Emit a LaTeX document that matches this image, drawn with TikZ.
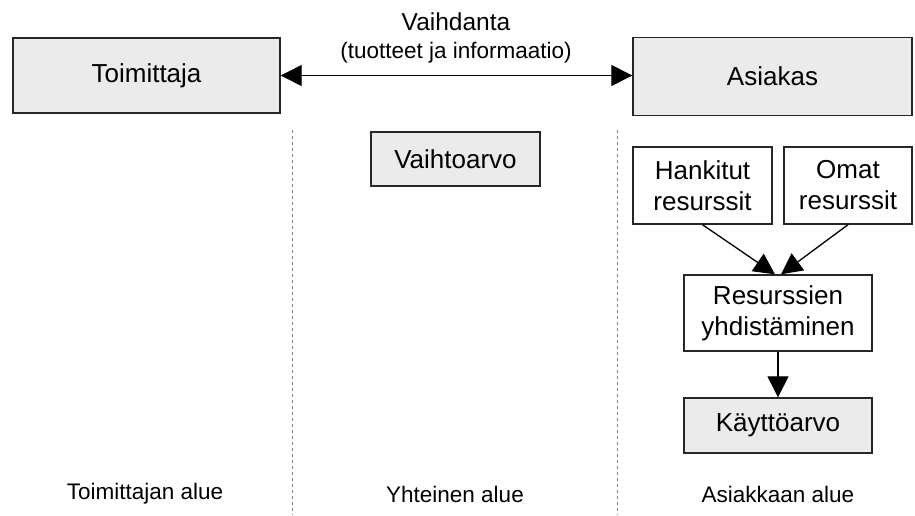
\documentclass[tikz,border=0pt]{standalone}
\usepackage{fontspec}
\setmainfont{Liberation Sans}
\usetikzlibrary{arrows.meta}
\tikzset{
  box/.style={draw=black!85, line width=1.4pt, inner sep=0pt, align=center, font=\fontsize{26}{31}\selectfont},
  graybox/.style={box, fill=boxgray},
  whitebox/.style={box, fill=white},
  conn/.style={line width=1.3pt, -{Triangle[length=21pt,width=21pt]}},
  divider/.style={gray, line width=0.9pt, dash pattern=on 3pt off 3pt},
  lbl/.style={font=\fontsize{22.5}{27}\selectfont, inner sep=0pt},
}
\definecolor{boxgray}{HTML}{EBEBEB}
\begin{document}
\begin{tikzpicture}[x=1pt,y=-1pt]
\useasboundingbox (0,0) rectangle (915,515);
% dividers
\coordinate (d1a) at (292,130); \coordinate (d1b) at (292,515);
\coordinate (d2a) at (617,130); \coordinate (d2b) at (617,515);
\draw[divider] (d1a) -- (d1b);
\draw[divider] (d2a) -- (d2b);
% nodes
\node[graybox, minimum width=267pt, minimum height=75pt] (toim) at (146.5,75.5) {Toimittaja};
\node[graybox, minimum width=279pt, minimum height=78pt] (asia) at (772.5,76.5) {Asiakas};
\node[graybox, minimum width=169pt, minimum height=54pt] (vaihto) at (455.5,159) {Vaihtoarvo};
\node[whitebox, minimum width=139pt, minimum height=77pt] (hank) at (702.5,185.5) {Hankitut\\resurssit};
\node[whitebox, minimum width=128pt, minimum height=77pt] (omat) at (848,185.5) {Omat\\resurssit};
\node[whitebox, minimum width=188pt, minimum height=76pt] (yhd) at (778,313) {Resurssien\\yhdistäminen};
\node[graybox, minimum width=188pt, minimum height=55pt] (kaytto) at (778,425.5) {Käyttöarvo};
% labels
\node[font=\fontsize{24.5}{29}\selectfont, inner sep=0pt] (vaihd) at (456,22) {Vaihdanta};
\node[lbl] (tuot) at (456,53) {(tuotteet ja informaatio)};
\node[lbl] (l1) at (145,494) {Toimittajan alue};
\node[lbl] (l2) at (455,494) {Yhteinen alue};
\node[lbl] (l3) at (778,494) {Asiakkaan alue};
% connectors
\draw[line width=1.3pt, {Triangle[length=21pt,width=21pt]}-{Triangle[length=21pt,width=21pt]}] (toim.east) -- (asia.west |- toim.east);
\draw[conn] (hank.south) -- ([xshift=-3pt]yhd.north);
\draw[conn] (omat.south) -- ([xshift=3pt]yhd.north);
\draw[conn] (yhd.south) -- (kaytto.north);
\end{tikzpicture}
\end{document}
